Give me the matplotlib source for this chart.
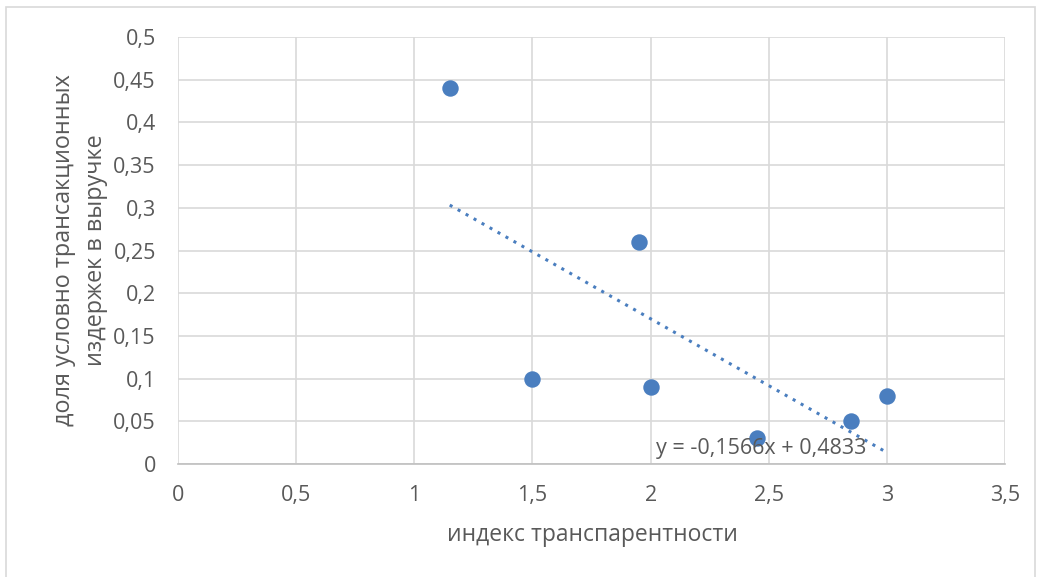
import matplotlib
matplotlib.use('Agg')
import matplotlib.pyplot as plt
import numpy as np
from matplotlib.patches import Rectangle

# данные точек
x_vals = [1.15, 1.5, 1.95, 2.0, 2.45, 2.85, 3.0]
y_vals = [0.44, 0.10, 0.26, 0.09, 0.03, 0.05, 0.08]

# линия тренда из подписи
slope = -0.1566
intercept = 0.4833

x_ticks = [0, 0.5, 1, 1.5, 2, 2.5, 3, 3.5]
y_ticks = [0, 0.05, 0.1, 0.15, 0.2, 0.25, 0.3, 0.35, 0.4, 0.45, 0.5]

plt.rcParams['font.family'] = ['Open Sans', 'DejaVu Sans']
text_color = '#595959'
blue = '#4a7ebf'

W, H = 1041, 577
fig = plt.figure(figsize=(W / 100, H / 100), dpi=100)
ax = fig.add_axes([178 / W, (H - 464) / H, (1005 - 178) / W, (464 - 37) / H])

# рамка диаграммы
fig.patches.append(Rectangle((6 / W, -0.01), 1029 / W, (H - 7) / H + 0.01,
                             transform=fig.transFigure, fill=False,
                             edgecolor='#d9d9d9', linewidth=1.2))

ax.scatter(x_vals, y_vals, s=140, color=blue, zorder=3, linewidths=0)

xt = np.array([min(x_vals), max(x_vals)])
ax.plot(xt, slope * xt + intercept, color=blue, linestyle=(0, (1, 2)),
        linewidth=2.2, zorder=2)

ax.text(2.025, 0.0185, 'y = -0,1566x + 0,4833', fontsize=15.5, color=text_color,
        va='center', ha='left', zorder=4)

ax.set_xlim(0, 3.5)
ax.set_ylim(0, 0.5)
ax.set_xticks(x_ticks)
ax.set_yticks(y_ticks)
fmt = lambda v: ('%g' % v).replace('.', ',')
ax.set_xticklabels([fmt(v) for v in x_ticks])
ax.set_yticklabels([fmt(v) for v in y_ticks])
ax.tick_params(length=0, labelsize=15.5, colors=text_color)
ax.tick_params(axis='x', pad=15)
ax.tick_params(axis='y', pad=16)

ax.grid(True, color='#d9d9d9', linewidth=1.2)
ax.set_axisbelow(True)
for side in ['top', 'right', 'left']:
    ax.spines[side].set_visible(False)
ax.spines['bottom'].set_color('#bfbfbf')
ax.spines['bottom'].set_linewidth(1.2)

fig.text(592 / W, 1 - 535 / H, 'индекс транспарентности', fontsize=16.5,
         color=text_color, ha='center', va='center')
fig.text(80 / W, 1 - 250 / H, 'доля условно трансакционных\nиздержек в выручке',
         fontsize=16.8, color=text_color, ha='center', va='center',
         rotation=90, linespacing=1.4)

plt.savefig('out.png', dpi=100)
